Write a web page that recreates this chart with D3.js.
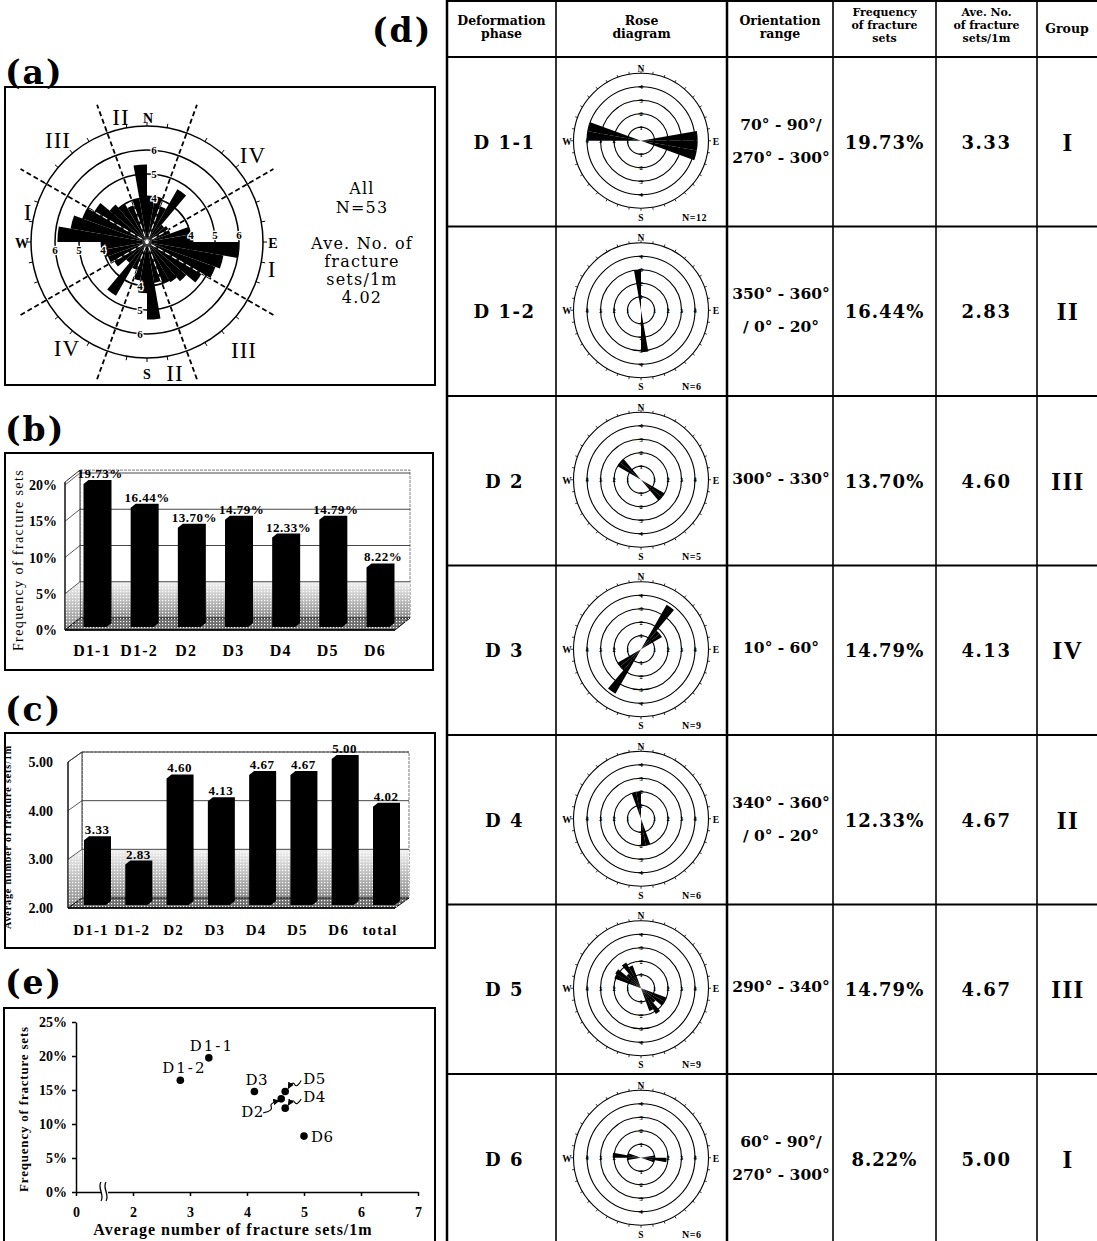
<!DOCTYPE html>
<html>
<head>
<meta charset="utf-8">
<script src="https://cdn.jsdelivr.net/npm/d3@7"></script>
<style>
  body { margin: 0; background: #fff; }
  svg { display: block; background: #fff; }
</style>
</head>
<body>
<div id="fig"></div>
<script>
// ---------- data ----------
var phases = ["D1-1", "D1-2", "D2", "D3", "D4", "D5", "D6"];
var freqPct = [19.73, 16.44, 13.70, 14.79, 12.33, 14.79, 8.22];
var aveCats = ["D1-1", "D1-2", "D2", "D3", "D4", "D5", "D6", "total"];
var aveNum = [3.33, 2.83, 4.60, 4.13, 4.67, 4.67, 5.00, 4.02];
var freqTicks = [0, 5, 10, 15, 20];
var aveTicks = [2, 3, 4, 5];
var scatterYTicks = [0, 5, 10, 15, 20, 25];
var scatterXTicks = [0, 2, 3, 4, 5, 6, 7];

// rose (a): all fracture sets, 10 degree bins clockwise from N
var roseAllBins = d3.range(0, 360, 10);
var roseAllVals = [4.1, 4.1, 3.75, 4.7, 3.1, 3.2, 3.2, 4.0, 4.1, 6.0, 5.4, 5.2,
                   4.8, 4.3, 4.1, 4.0, 3.9, 5.4, 4.3, 3.8, 3.4, 4.75, 3.3, 3.75,
                   3.9, 4.0, 4.1, 5.9, 5.4, 5.0, 4.7, 4.2, 4.0, 3.8, 4.0, 5.4];
var roseAllRings = [4, 5, 6, 7];
var roseAllRingLabels = [4, 5, 6];
var groupLineAz = [20, 60, 300, 340];

// roses in table (d): [bin start azimuth, count]
var tableRoses = [
  [[80, 4.2], [90, 4.2], [100, 4.2], [270, 4.0], [280, 4.0]],
  [[350, 3.0], [170, 3.1]],
  [[300, 2.0], [310, 2.0], [120, 2.0], [130, 2.0]],
  [[30, 3.8], [40, 1.8], [50, 1.8], [210, 3.8], [220, 2.0], [230, 2.0]],
  [[340, 2.0], [350, 2.0], [160, 2.0], [170, 2.0]],
  [[290, 2.1], [300, 2.2], [310, 1.4], [320, 2.2], [330, 1.8],
   [110, 2.0], [120, 2.0], [130, 1.4], [140, 2.2], [150, 1.8]],
  [[260, 1.0], [270, 2.1], [280, 1.0], [80, 1.0], [90, 1.9], [100, 1.0]]
];
var smallRings = [1, 2, 3, 4, 5];
var roseN = [12, 6, 5, 9, 6, 9, 6];

var phaseLabels = ["D 1-1", "D 1-2", "D 2", "D 3", "D 4", "D 5", "D 6"];
var orientRange = [["70° - 90°/", "270° - 300°"], ["350° - 360°", "/ 0° - 20°"], ["300° - 330°"],
                   ["10° - 60°"], ["340° - 360°", "/ 0° - 20°"], ["290° - 340°"], ["60° - 90°/", "270° - 300°"]];
var groupOf = ["I", "II", "III", "IV", "II", "III", "I"];
var headers = [["Deformation", "phase"], ["Rose", "diagram"], ["Orientation", "range"],
               ["Frequency", "of fracture", "sets"], ["Ave. No.", "of fracture", "sets/1m"], ["Group"]];

// ---------- setup ----------
var SERIF = "'DejaVu Serif', serif";
var TIMES = "'Liberation Serif', 'Times New Roman', serif";
var rad = function (d) { return d * Math.PI / 180; };
var poly = function (pts) { return "M" + pts.map(function (p) { return p.join(","); }).join("L") + "Z"; };

var svg = d3.select("#fig").append("svg").attr("width", 1097).attr("height", 1241);
var defs = svg.append("defs");

var grad = defs.append("linearGradient").attr("id", "wallShade")
    .attr("x1", 0).attr("y1", 0).attr("x2", 0).attr("y2", 1);
grad.append("stop").attr("offset", "0%").attr("stop-color", "#f2f2f2");
grad.append("stop").attr("offset", "100%").attr("stop-color", "#8a8a8a");
var pat = defs.append("pattern").attr("id", "dots").attr("width", 3).attr("height", 3)
    .attr("patternUnits", "userSpaceOnUse");
pat.append("rect").attr("width", 1.2).attr("height", 1.2).attr("fill", "#fff");
defs.append("marker").attr("id", "arrow").attr("viewBox", "0 0 10 10").attr("refX", 9).attr("refY", 5)
    .attr("markerWidth", 6).attr("markerHeight", 6).attr("orient", "auto")
    .append("path").attr("d", "M0,0L10,5L0,10Z").attr("fill", "#000");

function label(g, s, x, y, size, family, anchor, weight, ls) {
    return g.append("text").attr("x", x).attr("y", y)
        .attr("font-size", size).attr("font-family", family || SERIF)
        .attr("text-anchor", anchor || "middle").attr("font-weight", weight || "normal")
        .attr("letter-spacing", ls || 0).attr("fill", "#000").text(s);
}

// panel letters
[["(a)", 5, 84], ["(b)", 5, 441], ["(c)", 5, 721], ["(e)", 5, 994], ["(d)", 372, 42]].forEach(function (p) {
    label(svg, p[0], p[1], p[2], 33, SERIF, "start", "bold", 2);
});

// ---------- (a) rose of all fracture sets ----------
var pa = svg.append("g");
pa.append("rect").attr("x", 5).attr("y", 87).attr("width", 430).attr("height", 298)
    .attr("fill", "none").attr("stroke", "#000").attr("stroke-width", 2);

var rA = d3.scaleLinear().domain([4, 7]).range([44, 116]);
var roseA = pa.append("g").attr("transform", "translate(147,242)");
var petalsA = roseAllBins.map(function (b, i) { return {az: b, v: roseAllVals[i]}; });
var arcA = d3.arc().innerRadius(0)
    .outerRadius(function (d) { return rA(d.v); })
    .startAngle(function (d) { return rad(d.az); })
    .endAngle(function (d) { return rad(d.az + 10); });

roseA.selectAll(".otick").data(roseAllBins).enter().append("line")
    .attr("x1", function (d) { return rA(7) * Math.sin(rad(d)); })
    .attr("y1", function (d) { return -rA(7) * Math.cos(rad(d)); })
    .attr("x2", function (d) { return (rA(7) + 4) * Math.sin(rad(d)); })
    .attr("y2", function (d) { return -(rA(7) + 4) * Math.cos(rad(d)); })
    .attr("stroke", "#000").attr("stroke-width", 1);
roseA.selectAll(".ring").data(roseAllRings).enter().append("circle")
    .attr("r", function (d) { return rA(d); })
    .attr("fill", "none").attr("stroke", "#000").attr("stroke-width", 1.5);

function groupLines(g, color, w) {
    g.selectAll(".gl").data(groupLineAz).enter().append("line")
        .attr("x1", function (d) { return -146 * Math.sin(rad(d)); })
        .attr("y1", function (d) { return 146 * Math.cos(rad(d)); })
        .attr("x2", function (d) { return 146 * Math.sin(rad(d)); })
        .attr("y2", function (d) { return -146 * Math.cos(rad(d)); })
        .attr("stroke", color).attr("stroke-width", w).attr("stroke-dasharray", "5,3");
}
groupLines(roseA, "#000", 1.8);

defs.append("clipPath").attr("id", "petalClip").selectAll("path").data(petalsA).enter()
    .append("path").attr("d", arcA);
roseA.selectAll(".petal").data(petalsA).enter().append("path")
    .attr("d", arcA).attr("fill", "#000");
groupLines(roseA.append("g").attr("clip-path", "url(#petalClip)"), "#fff", 1.1);
roseA.append("circle").attr("r", 1.5).attr("fill", "#fff");

roseAllRingLabels.forEach(function (v) {
    [[7, -rA(v) + 4], [-7, rA(v) + 4], [rA(v), -3], [-rA(v), 12]].forEach(function (p) {
        label(roseA, v, p[0], p[1], 11, TIMES, "middle", "bold")
            .attr("stroke", "#fff").attr("stroke-width", 2.5).attr("paint-order", "stroke");
    });
});
[["N", 148, 123], ["S", 147, 379], ["W", 22, 248], ["E", 273, 248]].forEach(function (p) {
    label(pa, p[0], p[1], p[2], 14, TIMES, "middle", "bold");
});
[["III", 58, 148], ["II", 121, 125], ["IV", 253, 163], ["I", 28, 220],
 ["I", 272, 277], ["IV", 67, 356], ["III", 244, 358], ["II", 175, 381]].forEach(function (p) {
    label(pa, p[0], p[1], p[2], 23, TIMES, "middle", "normal", 1);
});
[["All", 194], ["N=53", 213], ["Ave. No. of", 249], ["fracture", 267], ["sets/1m", 285], ["4.02", 303]]
    .forEach(function (p) { label(pa, p[0], 362, p[1], 16, SERIF, "middle", "normal", 1.2); });

// ---------- 3D bar charts (b), (c) ----------
function bars3d(g, cfg) {
    var y = cfg.y, dx = cfg.dx, dy = cfg.dy, x0 = cfg.x0, x1 = cfg.x1;
    var yb = y(cfg.base), yt = y(cfg.top), ys = y(cfg.shadeFrom);

    g.append("path").attr("d", poly([[x0 + dx, yt + dy], [x1 + dx, yt + dy], [x1 + dx, yb + dy], [x0 + dx, yb + dy]]))
        .attr("fill", "#fff").attr("stroke", "#555").attr("stroke-width", 0.8).attr("stroke-dasharray", "3,1");
    ["url(#wallShade)", "url(#dots)"].forEach(function (f) {
        g.append("path").attr("d", poly([[x0 + dx, ys + dy], [x1 + dx, ys + dy], [x1 + dx, yb + dy], [x0 + dx, yb + dy]]))
            .attr("fill", f);
    });
    g.append("path").attr("d", poly([[x0, yb], [x0, yt], [x0 + dx, yt + dy], [x0 + dx, yb + dy]]))
        .attr("fill", "#fff").attr("stroke", "#000").attr("stroke-width", 0.8);
    ["url(#wallShade)", "url(#dots)"].forEach(function (f) {
        g.append("path").attr("d", poly([[x0, yb], [x0, ys], [x0 + dx, ys + dy], [x0 + dx, yb + dy]]))
            .attr("fill", f);
    });
    cfg.ticks.filter(function (t) { return t > cfg.base; }).forEach(function (t) {
        g.append("line").attr("x1", x0 + dx).attr("x2", x1 + dx).attr("y1", y(t) + dy).attr("y2", y(t) + dy)
            .attr("stroke", "#333").attr("stroke-width", 0.9);
        g.append("line").attr("x1", x0).attr("x2", x0 + dx).attr("y1", y(t)).attr("y2", y(t) + dy)
            .attr("stroke", "#333").attr("stroke-width", 0.8);
    });
    g.append("path").attr("d", poly([[x0, yb], [x1, yb], [x1 + dx, yb + dy], [x0 + dx, yb + dy]]))
        .attr("fill", "#6e6e6e").attr("stroke", "#000").attr("stroke-width", 1);
    g.append("path").attr("d", poly([[x0, yb], [x1, yb], [x1 + dx, yb + dy], [x0 + dx, yb + dy]]))
        .attr("fill", "url(#dots)");
    g.append("line").attr("x1", x0).attr("x2", x1).attr("y1", yb).attr("y2", yb)
        .attr("stroke", "#000").attr("stroke-width", 1.6);
    g.append("line").attr("x1", x0).attr("x2", x0).attr("y1", yb).attr("y2", yt)
        .attr("stroke", "#000").attr("stroke-width", 1);

    cfg.ticks.forEach(function (t) {
        label(g, cfg.tickFmt(t), cfg.tickX, y(t) + 5, 14, TIMES, "end", "bold");
    });

    var xc = d3.scalePoint().domain(cfg.cats).range(cfg.centers);
    var bw = cfg.barW, bdx = 5, bdy = 4, lift = 3;
    var data = cfg.cats.map(function (c, i) { return {c: c, v: cfg.vals[i]}; });
    g.selectAll(".bar3d").data(data).enter().append("path")
        .attr("d", function (d) {
            var xl = xc(d.c) - bw / 2, xr = xl + bw, top = y(d.v) - lift, bot = yb - lift;
            return poly([[xl, bot], [xl, top], [xl + bdx, top - bdy], [xr + bdx, top - bdy], [xr + bdx, bot - bdy], [xr, bot]]);
        })
        .attr("fill", "#000");
    data.forEach(function (d) {
        label(g, cfg.valFmt(d.v), xc(d.c) + cfg.valDx, y(d.v) - lift - bdy - 2, 13, TIMES, "middle", "bold", 0.5);
        label(g, d.c, xc(d.c) + cfg.catDx, cfg.catY, cfg.catSize, TIMES, "middle", "bold", 1.2);
    });
}

var pb = svg.append("g");
pb.append("rect").attr("x", 5).attr("y", 453).attr("width", 428).attr("height", 217)
    .attr("fill", "none").attr("stroke", "#000").attr("stroke-width", 2);
bars3d(pb, {
    cats: phases, vals: freqPct, y: d3.scaleLinear().domain([0, 20]).range([630, 485]),
    base: 0, top: 20.4, shadeFrom: 5, x0: 65, x1: 395, dx: 15, dy: -12,
    centers: [95, 378], barW: 23, ticks: freqTicks,
    tickFmt: function (d) { return d + "%"; }, tickX: 57,
    valFmt: function (d) { return d.toFixed(2) + "%"; }, valDx: 5,
    catY: 656, catDx: -3, catSize: 16
});
label(pb, "Frequency of fracture sets", 0, 0, 14, TIMES, "middle", "normal", 1.4)
    .attr("transform", "translate(23,560) rotate(-90)");

var pc = svg.append("g");
pc.append("rect").attr("x", 5).attr("y", 733).attr("width", 430).attr("height", 215)
    .attr("fill", "none").attr("stroke", "#000").attr("stroke-width", 2);
bars3d(pc, {
    cats: aveCats, vals: aveNum, y: d3.scaleLinear().domain([2, 5]).range([908, 762]),
    base: 2, top: 5, shadeFrom: 3, x0: 68, x1: 395, dx: 14, dy: -10,
    centers: [95, 384], barW: 22, ticks: aveTicks,
    tickFmt: function (d) { return d.toFixed(2); }, tickX: 53,
    valFmt: function (d) { return d.toFixed(2); }, valDx: 2,
    catY: 935, catDx: -4, catSize: 15
});
label(pc, "Average number of fracture sets/1m", 0, 0, 10, TIMES, "middle", "bold", 0.9)
    .attr("transform", "translate(11,837) rotate(-90)");

// ---------- (e) scatter ----------
var pe = svg.append("g");
pe.append("rect").attr("x", 4).attr("y", 1008).attr("width", 431).attr("height", 245)
    .attr("fill", "none").attr("stroke", "#000").attr("stroke-width", 2);
var xE = d3.scaleLinear().domain([0, 2, 7]).range([76, 133, 418]);
var yE = d3.scaleLinear().domain([0, 25]).range([1192, 1022]);

var axY = pe.append("g").attr("transform", "translate(76,0)")
    .call(d3.axisLeft(yE).tickValues(scatterYTicks).tickFormat(function (d) { return d + "%"; })
        .tickSize(4).tickSizeOuter(0).tickPadding(5));
var axX = pe.append("g").attr("transform", "translate(0,1192)")
    .call(d3.axisBottom(xE).tickValues(scatterXTicks).tickFormat(d3.format("d"))
        .tickSize(4).tickSizeOuter(0).tickPadding(11));
[axY, axX].forEach(function (ax) {
    ax.selectAll("path, line").attr("stroke", "#000").attr("stroke-width", 1.5);
    ax.selectAll("text").attr("font-family", TIMES).attr("font-size", 14).attr("font-weight", "bold").attr("fill", "#000");
});
// axis break
pe.append("rect").attr("x", 101).attr("y", 1188).attr("width", 7).attr("height", 8).attr("fill", "#fff");
[101, 106].forEach(function (bx) {
    pe.append("path").attr("d", "M" + bx + ",1182C" + (bx - 4) + ",1188 " + (bx + 4) + ",1195 " + bx + ",1201")
        .attr("fill", "none").attr("stroke", "#000").attr("stroke-width", 1.3);
});

var scatterLabelPos = {
    "D1-1": [-19, -7], "D1-2": [-18, -7], "D2": [-40, 18], "D3": [-9, -6],
    "D4": [18, -6], "D5": [18, -7], "D6": [7, 6]
};
var scatterArrows = {
    "D5": [[16, -11], [3, -3]], "D4": [[16, -9], [3, -3]], "D2": [[-18, 14], [-2, 2]]
};
var pts = phases.map(function (p, i) { return {name: p, x: aveNum[i], y: freqPct[i]}; });
pe.selectAll(".pt").data(pts).enter().append("circle")
    .attr("cx", function (d) { return xE(d.x); }).attr("cy", function (d) { return yE(d.y); })
    .attr("r", 3.8).attr("fill", "#000");
pts.forEach(function (d) {
    var px = xE(d.x), py = yE(d.y), o = scatterLabelPos[d.name];
    var ls = d.name.length > 2 ? 2 : 0.5;
    label(pe, d.name, px + o[0], py + o[1], 15, SERIF, "start", "normal", ls);
    var a = scatterArrows[d.name];
    if (a) {
        var sx = px + a[0][0], sy = py + a[0][1], ex = px + a[1][0], ey = py + a[1][1];
        var mx = (sx + ex) / 2, my = (sy + ey) / 2;
        pe.append("path")
            .attr("d", "M" + sx + "," + sy + "Q" + (mx + 2) + "," + (my + 4) + " " + mx + "," + my +
                "T" + ex + "," + ey)
            .attr("fill", "none").attr("stroke", "#000").attr("stroke-width", 1.1)
            .attr("marker-end", "url(#arrow)");
    }
});
label(pe, "Average number of fracture sets/1m", 233, 1235, 16, TIMES, "middle", "bold", 1);
label(pe, "Frequency of fracture sets", 0, 0, 13, TIMES, "middle", "bold", 0.8)
    .attr("transform", "translate(28,1109) rotate(-90)");

// ---------- (d) table ----------
var pd = svg.append("g");
var colX = [447, 556, 727, 833, 936, 1037, 1097];
var headTop = 1, headBot = 57, rowH = 169.5;
var rowY = function (i) { return headBot + i * rowH; };

[headTop, headBot].concat(phaseLabels.map(function (p, i) { return rowY(i + 1); })).forEach(function (yy) {
    pd.append("line").attr("x1", colX[0]).attr("x2", colX[6]).attr("y1", yy).attr("y2", yy)
        .attr("stroke", "#000").attr("stroke-width", 2);
});
colX.slice(0, 6).forEach(function (xx, i) {
    pd.append("line").attr("x1", xx).attr("x2", xx).attr("y1", 0).attr("y2", 1241)
        .attr("stroke", "#000").attr("stroke-width", i === 0 || i === 2 ? 2.5 : 1.6);
});

headers.forEach(function (lines, c) {
    var cx = (colX[c] + colX[c + 1]) / 2;
    var ys = lines.length === 3 ? [16, 29, 42] : lines.length === 2 ? [25, 38] : [33];
    var fs = lines.length === 3 ? 11 : 12.5;
    lines.forEach(function (s, k) { label(pd, s, cx, ys[k], fs, SERIF, "middle", "bold", 0); });
});

var rS = d3.scaleLinear().domain([0, 5]).range([0, 67.5]);
var arcS = d3.arc().innerRadius(0)
    .outerRadius(function (d) { return rS(d[1]); })
    .startAngle(function (d) { return rad(d[0]); })
    .endAngle(function (d) { return rad(d[0] + 10); });

phaseLabels.forEach(function (p, i) {
    var cy = rowY(i) + rowH / 2;
    label(pd, p, (colX[0] + colX[1]) / 2 + 3, cy + 7, 18, SERIF, "middle", "bold", 1.5);

    // rose diagram
    var g = pd.append("g").attr("transform", "translate(641," + (cy - 1) + ")");
    g.selectAll(".otick").data(roseAllBins).enter().append("line")
        .attr("x1", function (d) { return rS(5) * Math.sin(rad(d)); })
        .attr("y1", function (d) { return -rS(5) * Math.cos(rad(d)); })
        .attr("x2", function (d) { return (rS(5) + 2.5) * Math.sin(rad(d)); })
        .attr("y2", function (d) { return -(rS(5) + 2.5) * Math.cos(rad(d)); })
        .attr("stroke", "#000").attr("stroke-width", 0.8);
    g.selectAll(".ring").data(smallRings).enter().append("circle")
        .attr("r", function (d) { return rS(d); })
        .attr("fill", "none").attr("stroke", "#000").attr("stroke-width", 1.1);
    smallRings.slice(0, 4).forEach(function (v) {
        var r = rS(v);
        [[0, -r, 1], [0, r, 1], [r, 0, 0], [-r, 0, 0]].forEach(function (q) {
            g.append("line").attr("x1", q[0] - (q[2] ? 2.5 : 0)).attr("x2", q[0] + (q[2] ? 2.5 : 0))
                .attr("y1", q[1] - (q[2] ? 0 : 2.5)).attr("y2", q[1] + (q[2] ? 0 : 2.5))
                .attr("stroke", "#000").attr("stroke-width", 1);
            label(g, v, q[0], q[1] + 2.5, 6.5, TIMES, "middle", "bold");
        });
    });
    g.selectAll(".petal").data(tableRoses[i]).enter().append("path")
        .attr("d", arcS).attr("fill", "#000");
    [["N", 0, -69], ["S", 0, 80], ["W", -74, 4], ["E", 75, 4]].forEach(function (q) {
        label(g, q[0], q[1], q[2], 9.5, TIMES, "middle", "bold");
    });
    label(g, "N=" + roseN[i], 41, 80, 10, TIMES, "start", "bold", 0.5);

    // orientation range
    var oc = (colX[2] + colX[3]) / 2 + 1;
    var lines = orientRange[i];
    var oys = lines.length === 2 ? [cy - 12, cy + 21] : [cy + 3];
    lines.forEach(function (s, k) { label(pd, s, oc, oys[k], 15.5, SERIF, "middle", "bold", 0); });

    label(pd, freqPct[i].toFixed(2) + "%", (colX[3] + colX[4]) / 2, cy + 7, 18, SERIF, "middle", "bold", 1);
    label(pd, aveNum[i].toFixed(2), (colX[4] + colX[5]) / 2, cy + 7, 18, SERIF, "middle", "bold", 1.5);
    label(pd, groupOf[i], (colX[5] + colX[6]) / 2 + 1, cy + 9, 25, TIMES, "middle", "bold", 1.5);
});
</script>
</body>
</html>
